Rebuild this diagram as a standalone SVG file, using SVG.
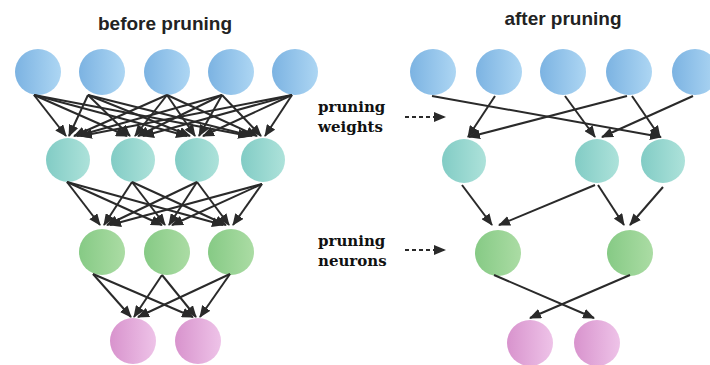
<svg xmlns="http://www.w3.org/2000/svg" width="710" height="365" viewBox="0 0 710 365">
<defs>
<linearGradient id="gb" x1="0" y1="0" x2="1" y2="0"><stop offset="0" stop-color="#7cb3e2"/><stop offset="1" stop-color="#add6f3"/></linearGradient>
<linearGradient id="gt" x1="0" y1="0" x2="1" y2="0"><stop offset="0" stop-color="#82ccc5"/><stop offset="1" stop-color="#ade2da"/></linearGradient>
<linearGradient id="gg" x1="0" y1="0" x2="1" y2="0"><stop offset="0" stop-color="#86ca85"/><stop offset="1" stop-color="#abdca4"/></linearGradient>
<linearGradient id="gp" x1="0" y1="0" x2="1" y2="0"><stop offset="0" stop-color="#d893cd"/><stop offset="1" stop-color="#eec3e8"/></linearGradient>
<marker id="ah" markerUnits="userSpaceOnUse" markerWidth="12" markerHeight="10" refX="11" refY="5" orient="auto"><path d="M0,0 L12,5 L0,10 z" fill="#2a2a2a"/></marker>
<marker id="dh" markerUnits="userSpaceOnUse" markerWidth="10" markerHeight="9" refX="9" refY="4.5" orient="auto"><path d="M0,0 L10,4.5 L0,9 z" fill="#111"/></marker>
</defs>
<style>
.t{font-family:"Liberation Sans",Arial,sans-serif;font-weight:bold;font-size:19px;fill:#222;text-anchor:middle}
.l{font-family:"DejaVu Serif","Liberation Serif",serif;font-weight:bold;font-size:15px;fill:#111}
.b{fill:url(#gb)} .c{fill:url(#gt)} .g{fill:url(#gg)} .p{fill:url(#gp)}
.e line{stroke:#2a2a2a;stroke-width:2;marker-end:url(#ah)}
.d{stroke:#111;stroke-width:2;stroke-dasharray:4 3;marker-end:url(#dh)}
</style>
<rect width="710" height="365" fill="#fff"/>
<text class="t" x="165" y="30">before pruning</text>
<text class="t" x="563" y="25">after pruning</text>

<g id="left-l1">
<circle class="b" cx="38" cy="72" r="23"/><circle class="b" cx="102" cy="72" r="23"/><circle class="b" cx="167" cy="72" r="23"/><circle class="b" cx="231" cy="72" r="23"/><circle class="b" cx="295" cy="72" r="23"/>
</g>
<g id="left-l2">
<circle class="c" cx="68" cy="160" r="22"/><circle class="c" cx="133" cy="160" r="22"/><circle class="c" cx="197" cy="160" r="22"/><circle class="c" cx="263" cy="160" r="22"/>
</g>
<g id="left-l3">
<circle class="g" cx="102" cy="252" r="23"/><circle class="g" cx="167" cy="252" r="23"/><circle class="g" cx="231" cy="252" r="23"/>
</g>
<g id="left-l4">
<circle class="p" cx="133" cy="341" r="23"/><circle class="p" cx="198" cy="341" r="23"/>
</g>

<g id="right-l1">
<circle class="b" cx="433" cy="72" r="23"/><circle class="b" cx="499" cy="72" r="23"/><circle class="b" cx="563" cy="72" r="23"/><circle class="b" cx="629" cy="72" r="23"/><circle class="b" cx="695" cy="72" r="23"/>
</g>
<g id="right-l2">
<circle class="c" cx="464" cy="161" r="22"/><circle class="c" cx="597" cy="161" r="22"/><circle class="c" cx="663" cy="161" r="22"/>
</g>
<g id="right-l3">
<circle class="g" cx="498" cy="253" r="23"/><circle class="g" cx="630" cy="253" r="23"/>
</g>
<g id="right-l4">
<circle class="p" cx="530" cy="343" r="23"/><circle class="p" cx="597" cy="343" r="23"/>
</g>

<g id="labels">
<text class="l" x="318" y="112">pruning</text>
<text class="l" x="318" y="132">weights</text>
<text class="l" x="318" y="246">pruning</text>
<text class="l" x="318" y="266">neurons</text>
</g>

<g id="connectors" class="e">
<line x1="34" y1="95" x2="66" y2="136"/><line x1="88" y1="95" x2="69" y2="136"/><line x1="167" y1="95" x2="74" y2="136"/><line x1="222" y1="95" x2="77" y2="136"/><line x1="292" y1="95" x2="81" y2="136"/>
<line x1="34" y1="95" x2="127" y2="136"/><line x1="88" y1="95" x2="130" y2="136"/><line x1="167" y1="95" x2="135" y2="136"/><line x1="222" y1="95" x2="138" y2="136"/><line x1="292" y1="95" x2="143" y2="136"/>
<line x1="34" y1="95" x2="187" y2="136"/><line x1="88" y1="95" x2="190" y2="136"/><line x1="167" y1="95" x2="195" y2="136"/><line x1="222" y1="95" x2="199" y2="136"/><line x1="292" y1="95" x2="203" y2="136"/>
<line x1="34" y1="95" x2="249" y2="136"/><line x1="88" y1="95" x2="252" y2="136"/><line x1="167" y1="95" x2="257" y2="136"/><line x1="222" y1="95" x2="261" y2="136"/><line x1="292" y1="95" x2="265" y2="136"/>

<line x1="67" y1="182" x2="100" y2="225"/><line x1="132" y1="182" x2="104" y2="225"/><line x1="197" y1="182" x2="107" y2="225"/><line x1="262" y1="184" x2="110" y2="225"/>
<line x1="67" y1="182" x2="162" y2="225"/><line x1="132" y1="182" x2="165" y2="225"/><line x1="197" y1="182" x2="169" y2="225"/><line x1="262" y1="184" x2="172" y2="225"/>
<line x1="67" y1="182" x2="223" y2="225"/><line x1="132" y1="182" x2="226" y2="225"/><line x1="197" y1="182" x2="229" y2="225"/><line x1="262" y1="184" x2="233" y2="225"/>

<line x1="93" y1="274" x2="131" y2="317"/><line x1="162" y1="275" x2="134" y2="317"/><line x1="230" y1="274" x2="138" y2="317"/>
<line x1="93" y1="274" x2="193" y2="317"/><line x1="162" y1="275" x2="196" y2="317"/><line x1="230" y1="274" x2="200" y2="317"/>

<line x1="432" y1="96" x2="661" y2="137"/>
<line x1="495" y1="96" x2="468" y2="137"/>
<line x1="565" y1="96" x2="595" y2="137"/>
<line x1="627" y1="96" x2="469" y2="137"/>
<line x1="632" y1="96" x2="660" y2="137"/>
<line x1="693" y1="96" x2="602" y2="137"/>

<line x1="462" y1="185" x2="492" y2="225"/>
<line x1="595" y1="185" x2="499" y2="225"/>
<line x1="598" y1="185" x2="624" y2="225"/>
<line x1="663" y1="187" x2="630" y2="225"/>

<line x1="494" y1="275" x2="594" y2="318"/>
<line x1="630" y1="275" x2="530" y2="318"/>

<line class="d" x1="405" y1="117" x2="445" y2="117"/>
<line class="d" x1="405" y1="250" x2="445" y2="250"/>
</g>
</svg>
